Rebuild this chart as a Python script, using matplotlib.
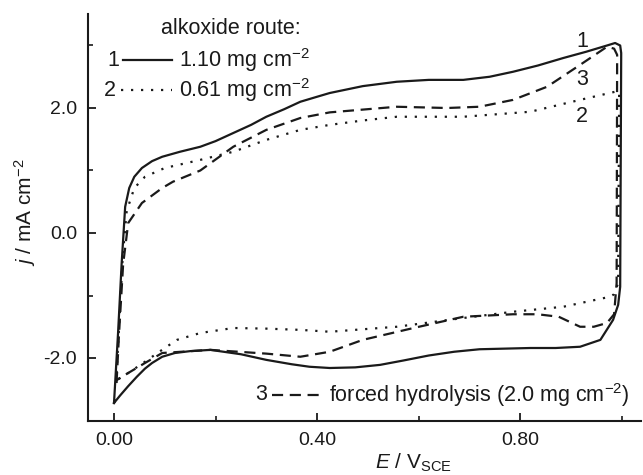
import matplotlib
matplotlib.use("Agg")
import matplotlib.pyplot as plt
from matplotlib.lines import Line2D
import numpy as np

plt.rcParams['font.family'] = ['Liberation Sans', 'DejaVu Sans']
plt.rcParams['mathtext.fontset'] = 'custom'
plt.rcParams['mathtext.rm'] = 'Liberation Sans'
plt.rcParams['mathtext.it'] = 'Liberation Sans:italic'

# Curve 1: alkoxide route 1.10 mg cm-2 (solid)
e1_fwd = [0.0, 0.008, 0.015, 0.022, 0.030, 0.040, 0.055, 0.075, 0.095, 0.13, 0.17, 0.20, 0.235,
          0.27, 0.30, 0.335, 0.367, 0.40, 0.425, 0.49, 0.557, 0.62, 0.688, 0.74, 0.786, 0.835,
          0.885, 0.93, 0.971, 0.987, 0.997, 0.999]
j1_fwd = [-2.72, -1.6, -0.5, 0.42, 0.72, 0.90, 1.04, 1.15, 1.22, 1.30, 1.38, 1.47, 1.6,
          1.73, 1.86, 1.98, 2.1, 2.18, 2.24, 2.35, 2.42, 2.45, 2.45, 2.5, 2.58, 2.68,
          2.8, 2.9, 3.0, 3.04, 3.0, 2.88]
e1_rev = [0.999, 0.997, 0.993, 0.983, 0.958, 0.918, 0.87, 0.82, 0.72, 0.67, 0.62, 0.57, 0.524,
          0.475, 0.425, 0.385, 0.35, 0.30, 0.25, 0.19, 0.15, 0.12, 0.095, 0.075, 0.061, 0.045,
          0.028, 0.012, 0.0]
j1_rev = [2.88, -0.86, -1.15, -1.39, -1.71, -1.82, -1.84, -1.84, -1.86, -1.90, -1.96, -2.04, -2.11,
          -2.15, -2.16, -2.14, -2.1, -2.03, -1.94, -1.87, -1.89, -1.92, -1.98, -2.08, -2.17, -2.3,
          -2.45, -2.6, -2.72]

# Curve 2: alkoxide route 0.61 mg cm-2 (dotted)
e2_fwd = [0.004, 0.01, 0.017, 0.025, 0.04, 0.061, 0.1, 0.17, 0.235, 0.30, 0.367, 0.425,
          0.49, 0.557, 0.688, 0.82, 0.918, 0.987]
j2_fwd = [-2.4, -1.5, -0.4, 0.35, 0.72, 0.9, 1.04, 1.17, 1.3, 1.49, 1.65, 1.73,
          1.8, 1.86, 1.86, 1.94, 2.13, 2.26]
e2_rev = [0.995, 0.993, 0.985, 0.977, 0.885, 0.786, 0.688, 0.557, 0.425, 0.367, 0.30,
          0.235, 0.17, 0.124, 0.1, 0.061, 0.028, 0.006]
j2_rev = [2.26, -0.8, -0.98, -1.02, -1.18, -1.26, -1.36, -1.5, -1.58, -1.55, -1.53,
          -1.52, -1.6, -1.71, -1.84, -2.06, -2.24, -2.35]

# Curve 3: forced hydrolysis 2.0 mg cm-2 (dashed)
e3_fwd = [0.005, 0.01, 0.018, 0.028, 0.055, 0.095, 0.116, 0.17, 0.235, 0.30, 0.367, 0.425,
          0.557, 0.656, 0.72, 0.786, 0.853, 0.918, 0.971, 0.985, 0.991]
j3_fwd = [-2.4, -1.6, -0.5, 0.16, 0.48, 0.72, 0.82, 1.0, 1.38, 1.65, 1.84, 1.93,
          2.02, 2.0, 2.02, 2.13, 2.34, 2.69, 2.98, 2.95, 2.85]
e3_rev = [0.991, 0.99, 0.985, 0.971, 0.945, 0.918, 0.876, 0.834, 0.786, 0.688, 0.59,
          0.49, 0.425, 0.367, 0.30, 0.19, 0.095, 0.061, 0.028, 0.006]
j3_rev = [2.85, -0.8, -1.3, -1.44, -1.5, -1.5, -1.34, -1.3, -1.3, -1.34, -1.52,
          -1.71, -1.9, -1.98, -1.93, -1.87, -1.92, -2.08, -2.24, -2.35]

x_ticks = [0.00, 0.40, 0.80]
x_ticklabels = ["0.00", "0.40", "0.80"]
y_ticks = [-2.0, 0.0, 2.0]
y_ticklabels = ["-2.0", "0.0", "2.0"]

legend_title = "alkoxide route:"
label1 = "1.10 mg cm$^{\\mathregular{-2}}$"
label2 = "0.61 mg cm$^{\\mathregular{-2}}$"
label3 = "forced hydrolysis (2.0 mg cm$^{\\mathregular{-2}}$)"

W, H = 643, 475
fig = plt.figure(figsize=(W / 100, H / 100), dpi=100)
ax_l, ax_r, ax_t, ax_b = 88, 641, 14, 421
ax = fig.add_axes([ax_l / W, 1 - ax_b / H, (ax_r - ax_l) / W, (ax_b - ax_t) / H])

col = '#1a1a1a'
ax.plot(e1_fwd + e1_rev, j1_fwd + j1_rev, color=col, lw=1.6, ls='-')
ax.plot(e2_fwd + e2_rev, j2_fwd + j2_rev, color=col, lw=1.6, ls=(0, (1, 3.5)))
ax.plot(e3_fwd + e3_rev, j3_fwd + j3_rev, color=col, lw=1.6, ls=(0, (5, 3)))

ax.set_xlim(-0.0512, 1.038)
ax.set_ylim(-3.008, 3.504)

for s in ['top', 'right']:
    ax.spines[s].set_visible(False)
for s in ['left', 'bottom']:
    ax.spines[s].set_linewidth(1.5)
    ax.spines[s].set_color(col)

ax.set_xticks(x_ticks)
ax.set_xticklabels(x_ticklabels)
ax.set_yticks(y_ticks)
ax.set_yticklabels(y_ticklabels)
ax.set_xticks([0.2, 0.6, 1.0], minor=True)
ax.set_yticks([-1.0, 1.0, 3.0], minor=True)
ax.tick_params(which='major', direction='in', length=6, width=1.3, labelsize=14,
               pad=8, colors=col)
ax.tick_params(which='minor', direction='in', length=3.5, width=1.2, colors=col)

ax.set_xlabel("$\\mathit{E}$ / V$_{\\mathregular{SCE}}$", fontsize=15, color=col)
ax.xaxis.set_label_coords(0.588, -0.075)
ax.set_ylabel("$\\mathit{j}$ / mA cm$^{\\mathregular{-2}}$", fontsize=15, color=col)
ax.yaxis.set_label_coords(-0.09, 0.513)

def fx(px):
    return (px - ax_l) / (ax_r - ax_l)

def fy(py):
    return (ax_b - py) / (ax_b - ax_t)

fs = 15.5
ax.text(fx(231), fy(29), legend_title, transform=ax.transAxes, ha='center', va='center',
        fontsize=fs, color=col)
ax.text(fx(113), fy(60), "1", transform=ax.transAxes, ha='center', va='center', fontsize=fs, color=col)
ax.add_line(Line2D([fx(123), fx(172)], [fy(60), fy(60)], transform=ax.transAxes,
                   color=col, lw=1.6, ls='-'))
ax.text(fx(179), fy(60), label1, transform=ax.transAxes, ha='left', va='center', fontsize=fs, color=col)
ax.text(fx(110), fy(90), "2", transform=ax.transAxes, ha='center', va='center', fontsize=fs, color=col)
ax.add_line(Line2D([fx(121), fx(172)], [fy(90), fy(90)], transform=ax.transAxes,
                   color=col, lw=1.6, ls=(0, (1, 3.5))))
ax.text(fx(179), fy(90), label2, transform=ax.transAxes, ha='left', va='center', fontsize=fs, color=col)

ax.text(fx(261), fy(395), "3", transform=ax.transAxes, ha='center', va='center', fontsize=fs, color=col)
ax.add_line(Line2D([fx(272), fx(324)], [fy(395), fy(395)], transform=ax.transAxes,
                   color=col, lw=1.6, ls=(0, (5, 3))))
ax.text(fx(329), fy(395), label3, transform=ax.transAxes, ha='left', va='center', fontsize=fs, color=col)

ax.text(0.922, 3.06, "1", ha='center', va='center', fontsize=fs, color=col)
ax.text(0.922, 2.45, "3", ha='center', va='center', fontsize=fs, color=col)
ax.text(0.922, 1.86, "2", ha='center', va='center', fontsize=fs, color=col)

fig.savefig("out.png", dpi=100)
